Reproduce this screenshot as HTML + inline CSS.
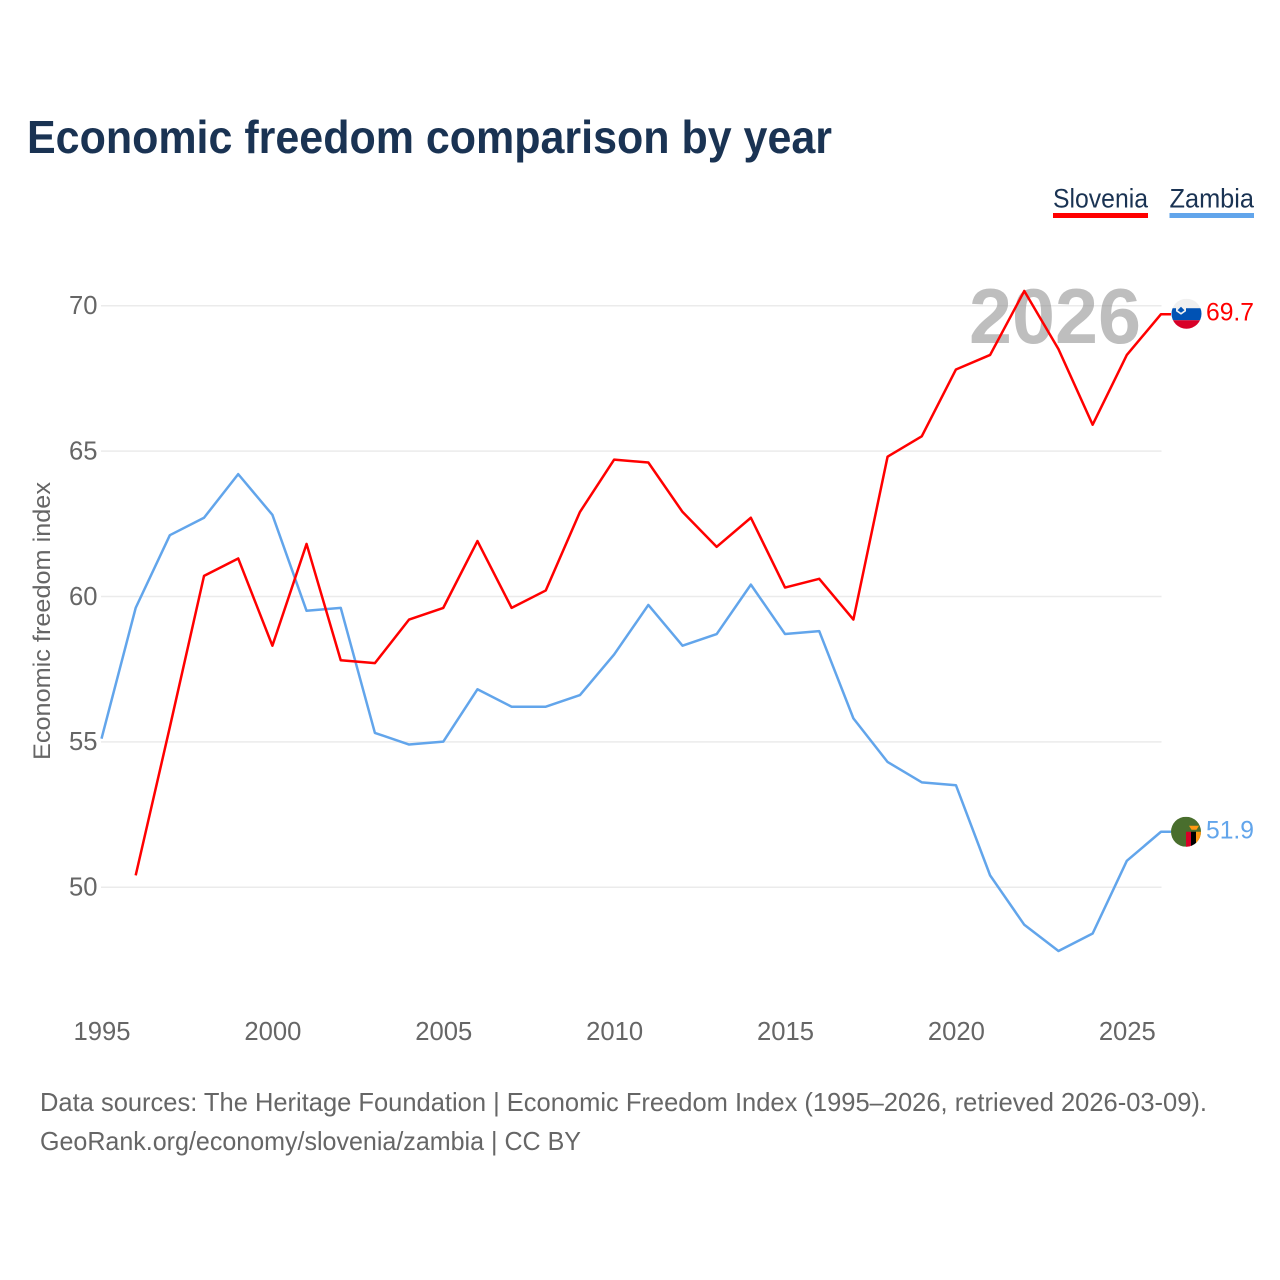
<!DOCTYPE html>
<html lang="en">
<head>
<meta charset="utf-8">
<title>Economic freedom comparison by year</title>
<style>
html,body{margin:0;padding:0;background:#fff;}
svg{display:block;font-family:"Liberation Sans",Arial,sans-serif;}
</style>
</head>
<body>
<svg id="chart" width="1280" height="1280" viewBox="0 0 1280 1280" xmlns="http://www.w3.org/2000/svg">
  <rect width="1280" height="1280" fill="#fff"/>
  <text x="27" y="153" font-size="46" font-weight="700" fill="#1a3353" textLength="805" lengthAdjust="spacingAndGlyphs">Economic freedom comparison by year</text>

  <g>
    <text x="1053" y="207.5" font-size="27" fill="#1a3353" textLength="95" lengthAdjust="spacingAndGlyphs">Slovenia</text>
    <rect x="1053" y="213" width="95" height="5" fill="#ff0000"/>
  </g>
  <g>
    <text x="1169.5" y="207.5" font-size="27" fill="#1a3353" textLength="84.5" lengthAdjust="spacingAndGlyphs">Zambia</text>
    <rect x="1169.5" y="213" width="84.5" height="5" fill="#62a5eb"/>
  </g>

  <g id="grid"></g>
  <text x="969" y="343" font-size="78" font-weight="700" fill="#888" fill-opacity="0.55" textLength="172" lengthAdjust="spacingAndGlyphs">2026</text>
  <g id="yticks"></g>
  <g id="xticks"></g>
  <text transform="translate(50,621) rotate(-90)" text-anchor="middle" font-size="24" fill="#666" textLength="278" lengthAdjust="spacingAndGlyphs">Economic freedom index</text>
  <g id="series"></g>
  <g id="ends"></g>

  <text x="40" y="1111" font-size="26" fill="#666" textLength="1167" lengthAdjust="spacingAndGlyphs">Data sources: The Heritage Foundation | Economic Freedom Index (1995–2026, retrieved 2026-03-09).</text>
  <text x="40" y="1150" font-size="26" fill="#666" textLength="541" lengthAdjust="spacingAndGlyphs">GeoRank.org/economy/slovenia/zambia | CC BY</text>
</svg>
<script>
const startYear = 1995;
const endYear = 2026;
const years = [1995,1996,1997,1998,1999,2000,2001,2002,2003,2004,2005,2006,2007,2008,2009,2010,2011,2012,2013,2014,2015,2016,2017,2018,2019,2020,2021,2022,2023,2024,2025,2026];
const slovenia = [null,50.4,55.5,60.7,61.3,58.3,61.8,57.8,57.7,59.2,59.6,61.9,59.6,60.2,62.9,64.7,64.6,62.9,61.7,62.7,60.3,60.6,59.2,64.8,65.5,67.8,68.3,70.5,68.5,65.9,68.3,69.7];
const zambia = [55.1,59.6,62.1,62.7,64.2,62.8,59.5,59.6,55.3,54.9,55.0,56.8,56.2,56.2,56.6,58.0,59.7,58.3,58.7,60.4,58.7,58.8,55.8,54.3,53.6,53.5,50.4,48.7,47.8,48.4,50.9,51.9];
const yTicks = [50,55,60,65,70];
const xTicks = [1995,2000,2005,2010,2015,2020,2025];

const NS = 'http://www.w3.org/2000/svg';
function x(year){ return 101.5 + (year - startYear) * (1161 - 101.5) / (endYear - startYear); }
function y(value){ return 887 - (value - 50) * (887 - 305.5) / 20; }
function make(tag, attrs, parent){
  const el = document.createElementNS(NS, tag);
  for (const k in attrs) el.setAttribute(k, attrs[k]);
  parent.appendChild(el);
  return el;
}

const grid = document.getElementById('grid');
const yt = document.getElementById('yticks');
yTicks.forEach(function(t){
  const line = make('line', {x1:101, x2:1161.5, y1:y(t)+0.25, y2:y(t)+0.25, stroke:'#ebebeb', 'stroke-width':1.5}, grid);
  
  
  const label = make('text', {x:97.5, y:y(t)+8.5, 'text-anchor':'end', 'font-size':26, fill:'#666', textLength:28.5, lengthAdjust:'spacingAndGlyphs'}, yt);
  label.textContent = t;
  
  
});

const xt = document.getElementById('xticks');
xTicks.forEach(function(t){
  const label = make('text', {x:x(t)+0.5, y:1040, 'text-anchor':'middle', 'font-size':26, fill:'#666', textLength:57, lengthAdjust:'spacingAndGlyphs'}, xt);
  label.textContent = t;
  
  
});

function linePath(values){
  let d = '';
  values.forEach(function(v, i){
    if (v === null) return;
    d += (d ? 'L' : 'M') + x(years[i]).toFixed(2) + ' ' + y(v).toFixed(2);
  });
  return d;
}

const ends = document.getElementById('ends');
const lastX = x(years[years.length - 1]);

const seriesGroup = document.getElementById('series');
const zambiaLine = make('path', {d:linePath(zambia) + 'H' + (lastX + 10), fill:'none', stroke:'#62a5eb', 'stroke-width':2.5, 'stroke-linejoin':'round'}, seriesGroup);


const sloveniaLine = make('path', {d:linePath(slovenia) + 'H' + (lastX + 10), fill:'none', stroke:'#ff0000', 'stroke-width':2.5, 'stroke-linejoin':'round'}, seriesGroup);



function flagClip(id, cx, cy){
  const cp = make('clipPath', {id:id}, ends);
  make('circle', {cx:cx, cy:cy, r:15}, cp);
}

/* Slovenia flag and value */
const sv = slovenia[slovenia.length - 1];
const sy = y(sv);
const sFlagX = lastX + 25.5;
const sFlagY = sy - 0.5;
flagClip('clip-si', sFlagX, sFlagY);
const sFlag = make('g', {'clip-path':'url(#clip-si)'}, ends);


make('rect', {x:sFlagX-15, y:sFlagY-15, width:30, height:10, fill:'#f0f0f0'}, sFlag);
make('rect', {x:sFlagX-15, y:sFlagY-5.5, width:30, height:12, fill:'#0052b4'}, sFlag);
make('rect', {x:sFlagX-15, y:sFlagY+6.5, width:30, height:10, fill:'#d80027'}, sFlag);
make('path', {d:'M'+(sFlagX-10.5)+' '+(sFlagY-9.5)+'h10v7l-5 3.5l-5-3.5z', fill:'#f0f0f0'}, sFlag);
make('path', {d:'M'+(sFlagX-9)+' '+(sFlagY-3.5)+'l3.5-3.5l3.5 3.5l-3.5 2.5z', fill:'#0052b4'}, sFlag);
const sLabel = make('text', {x:1254, y:sy+6.5, 'text-anchor':'end', 'font-size':25, fill:'#ff0000', textLength:48, lengthAdjust:'spacingAndGlyphs'}, ends);
sLabel.textContent = sv.toFixed(1);



/* Zambia flag and value */
const zv = zambia[zambia.length - 1];
const zy = y(zv);
const zFlagX = lastX + 25;
const zFlagY = zy;
flagClip('clip-zm', zFlagX, zFlagY);
const zFlag = make('g', {'clip-path':'url(#clip-zm)'}, ends);


make('rect', {x:zFlagX-15, y:zFlagY-15, width:30, height:30, fill:'#496e2d'}, zFlag);
make('rect', {x:zFlagX, y:zFlagY, width:5, height:16, fill:'#d80027'}, zFlag);
make('rect', {x:zFlagX+5, y:zFlagY, width:5, height:16, fill:'#000'}, zFlag);
make('rect', {x:zFlagX+10, y:zFlagY, width:5, height:16, fill:'#ff9811'}, zFlag);
make('path', {d:'M'+(zFlagX+3)+' '+(zFlagY-6)+'h10l-2.5 4h-5z', fill:'#ff9811'}, zFlag);
const zLabel = make('text', {x:1254, y:zy+6.5, 'text-anchor':'end', 'font-size':25, fill:'#62a5eb', textLength:48, lengthAdjust:'spacingAndGlyphs'}, ends);
zLabel.textContent = zv.toFixed(1);


</script>
</body>
</html>
